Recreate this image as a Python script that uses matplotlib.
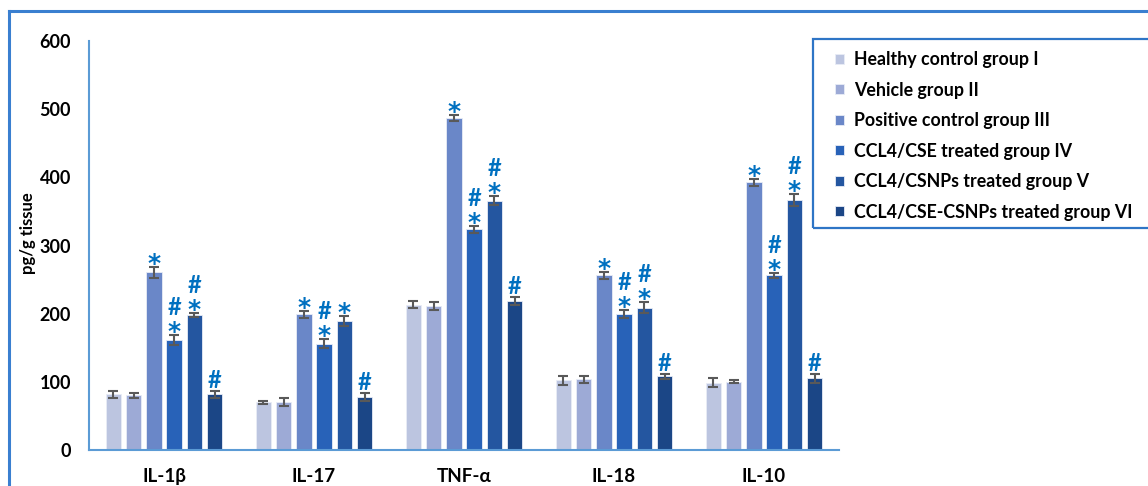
import matplotlib
matplotlib.use("Agg")
import matplotlib.pyplot as plt
from matplotlib.patches import Rectangle
from matplotlib.lines import Line2D
import numpy as np

plt.rcParams['font.family'] = ['Lato', 'DejaVu Sans']
plt.rcParams['font.weight'] = 'bold'

# 数据
cytokines = ["IL-1β", "IL-17", "TNF-α", "IL-18", "IL-10"]
groups = ["Healthy control group I", "Vehicle group II", "Positive control group III",
          "CCL4/CSE treated group IV", "CCL4/CSNPs treated group V",
          "CCL4/CSE-CSNPs treated group VI"]
colors = ["#BCC5E0", "#9DAAD6", "#6A87C8", "#2862B8", "#2456A0", "#1B4686"]

# 每组的均值 (按 cytokines 顺序)
means = [
    [82, 70, 213, 102, 99],
    [80, 70, 211, 104, 100],
    [261, 199, 487, 256, 393],
    [161, 156, 324, 199, 256],
    [198, 189, 366, 209, 367],
    [82, 78, 218, 108, 105],
]
errors = [
    [5, 2, 5, 7, 6],
    [3, 6, 6, 5, 2],
    [8, 5, 5, 5, 5],
    [7, 7, 5, 6, 4],
    [3, 7, 7, 8, 9],
    [5, 6, 6, 4, 6],
]
# 显著性标记
marks = [
    ["", "", "", "", ""],
    ["", "", "", "", ""],
    ["*", "*", "*", "*", "*"],
    ["*#", "*#", "*#", "*#", "*#"],
    ["*#", "*", "*#", "*#", "*#"],
    ["#", "#", "#", "#", "#"],
]

W, H = 1148, 486
PX = 0.72  # 1 像素 = 0.72 pt
fig = plt.figure(figsize=(W / 100, H / 100), dpi=100)
ax = fig.add_axes([89 / W, 1 - 450 / H, 750 / W, 409 / H])

x = np.arange(len(cytokines))
pitch = 0.1353
width = 0.103
mark_color = "#0070C0"

for i, g in enumerate(groups):
    xs = x + (i - 2.5) * pitch
    ax.bar(xs, means[i], width, color=colors[i], edgecolor="#E8ECF6", linewidth=0.6,
           label=g, zorder=2)
    ax.errorbar(xs, means[i], yerr=errors[i], fmt="none", ecolor="#595959",
                elinewidth=1.5, capsize=3.5, capthick=1.5, zorder=3)
    for j in range(len(cytokines)):
        top = means[i][j] + errors[i][j]
        m = marks[i][j]
        if "*" in m:
            ax.annotate("*", (xs[j], top), xytext=(0, -4 * PX), textcoords="offset points",
                        ha="center", va="baseline", fontsize=18, color=mark_color,
                        family=["DejaVu Sans"], fontweight="bold")
        if "#" in m:
            dy = 20 if "*" in m else 3
            ax.annotate("#", (xs[j], top), xytext=(0, dy * PX), textcoords="offset points",
                        ha="center", va="baseline", fontsize=17, color=mark_color,
                        fontweight="bold")

ax.set_xlim(-0.5, 4.5)
ax.set_ylim(0, 600)
ax.set_yticks(range(0, 601, 100))
ax.set_xticks(x)
ax.set_xticklabels(cytokines, fontsize=13.5, fontweight="bold")
ax.tick_params(axis="y", length=0, pad=13, labelsize=13)
ax.tick_params(axis="x", length=0, pad=13)
for s in ["top", "right"]:
    ax.spines[s].set_visible(False)
for s in ["left", "bottom"]:
    ax.spines[s].set_color("#5B9BD5")
    ax.spines[s].set_linewidth(1.5)
ax.set_ylabel("pg/g tissue", fontsize=12, fontweight="bold")
ax.yaxis.set_label_coords(-0.071, 0.53)

# 图例
leg = fig.legend(loc="upper left", bbox_to_anchor=(828 / W, 1 - 44 / H), frameon=False,
                 fontsize=12.8, handlelength=0.5, handleheight=0.5, handletextpad=0.55,
                 labelspacing=0.76, borderaxespad=0)
fig.add_artist(Rectangle((813 / W, 1 - 228 / H), 400 / W, 189 / H, transform=fig.transFigure,
                         fill=False, edgecolor="#2E75C6", linewidth=1.6))

# 外框
fig.add_artist(Line2D([9 / W, 9 / W], [0, 1 - 11 / H], transform=fig.transFigure,
                      color="#3A7FD0", linewidth=2.2))
fig.add_artist(Line2D([9 / W, 1], [1 - 11 / H, 1 - 11 / H], transform=fig.transFigure,
                      color="#3A7FD0", linewidth=2.2))

fig.savefig("out.png", dpi=100, facecolor="white")
